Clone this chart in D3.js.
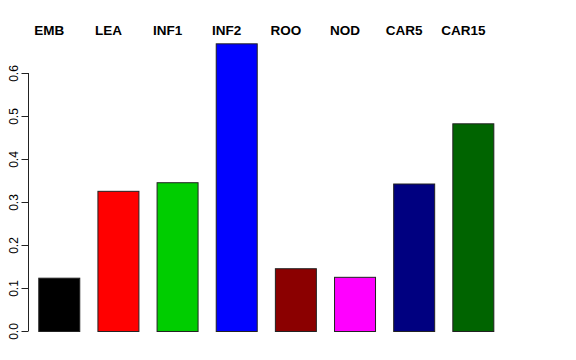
<!DOCTYPE html>
<html>
<head>
<meta charset="utf-8">
<script src="https://cdn.jsdelivr.net/npm/d3@7"></script>
<style>
  html, body { margin: 0; padding: 0; background: #fff; }
  svg { display: block; font-family: "Liberation Sans", Arial, Helvetica, sans-serif; }
</style>
</head>
<body>
<svg id="chart" width="576" height="360"></svg>
<script>
// ── Data ──────────────────────────────────────────────────────────
const categories = ['EMB', 'LEA', 'INF1', 'INF2', 'ROO', 'NOD', 'CAR5', 'CAR15'];
const values     = [0.124, 0.326, 0.346, 0.669, 0.146, 0.126, 0.343, 0.483];
const barColors  = ['#000000', '#FF0000', '#00CD00', '#0000FF', '#8B0000', '#FF00FF', '#000080', '#006400'];
const yTicks     = [0, 0.1, 0.2, 0.3, 0.4, 0.5, 0.6];

// ── Layout ────────────────────────────────────────────────────────
const svg = d3.select('#chart');

const x = d3.scaleBand()
  .domain(categories)
  .range([29.7, 502.9])
  .paddingInner(0.29)
  .paddingOuter(0.145);

const y = d3.scaleLinear()
  .domain([0, 0.6])
  .range([331, 73]);

// ── Bars ──────────────────────────────────────────────────────────
svg.append('g')
  .selectAll('rect')
  .data(values)
  .join('rect')
    .attr('x', (d, i) => x(categories[i]) + 0.5)
    .attr('y', d => y(d) + 0.5)
    .attr('width', x.bandwidth() - 1)
    .attr('height', d => y(0) - y(d))
    .attr('fill', (d, i) => barColors[i])
    .attr('stroke', '#222')
    .attr('stroke-width', 1);

// ── Y axis (R style: rotated labels) ──────────────────────────────
const yAxis = svg.append('g')
  .attr('transform', 'translate(28.5,0)')
  .call(d3.axisLeft(y).tickValues(yTicks).tickSize(7).tickFormat(d3.format('.1f')));

yAxis.select('.domain')
  .attr('d', `M0,${y(0)}V${y(0.6)}`)
  .attr('stroke', '#222');
yAxis.selectAll('.tick line').attr('stroke', '#222');
yAxis.selectAll('.tick text')
  .attr('x', null).attr('dy', null)
  .attr('transform', 'translate(-11,0) rotate(-90)')
  .attr('text-anchor', 'middle')
  .attr('font-size', 12)
  .attr('font-family', '"Liberation Sans", Arial, sans-serif')
  .attr('fill', '#000');

// ── Category labels across the top ────────────────────────────────
svg.append('g')
  .selectAll('text')
  .data(categories)
  .join('text')
    .attr('x', d => x(d) + x.bandwidth() / 2 - 10)
    .attr('y', 35.3)
    .attr('text-anchor', 'middle')
    .attr('font-size', 13.5)
    .attr('font-weight', 'bold')
    .attr('fill', '#000')
    .text(d => d);
</script>
</body>
</html>
